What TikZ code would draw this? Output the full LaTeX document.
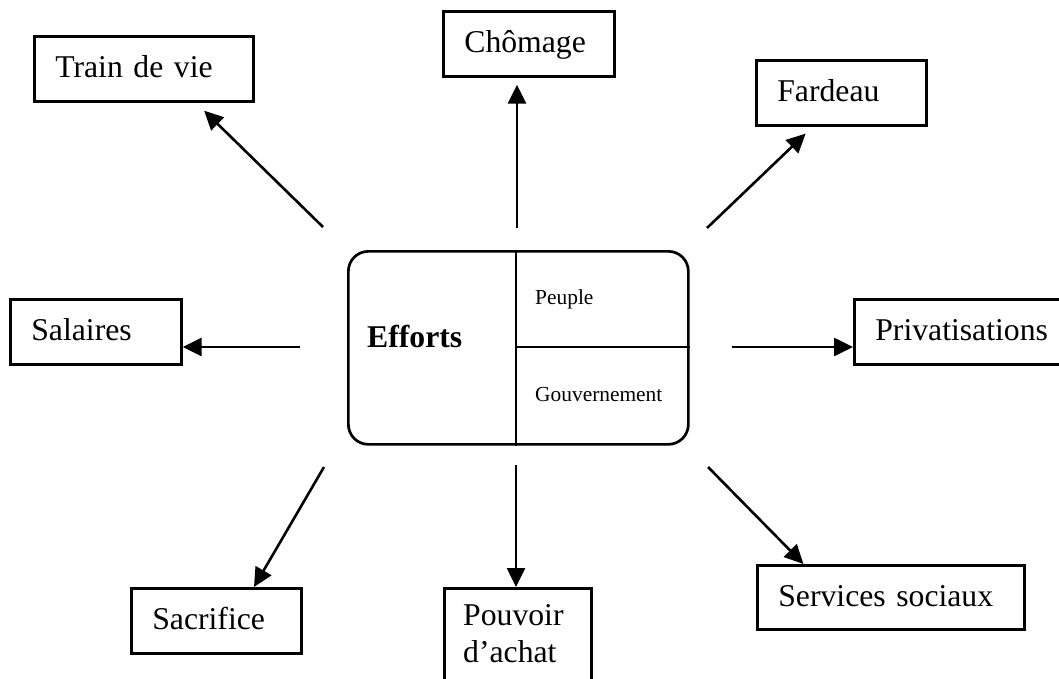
\documentclass[tikz,border=0pt]{standalone}
\usepackage{fontspec}
\setmainfont{Liberation Serif}
\usetikzlibrary{arrows.meta,calc}
\newcommand\dgmbig{\fontsize{31.7}{37}\selectfont}
\newcommand\dgmsmall{\fontsize{21.4}{25}\selectfont}
\begin{document}
\begin{tikzpicture}[x=1pt,y=-1pt,
  box/.style={draw,line width=2.7pt,anchor=north west,inner xsep=21pt,inner ysep=0pt,
    text height=22pt,text depth=4pt,minimum height=65pt,align=left,font=\dgmbig},
  arr/.style={line width=2.6pt,-{Triangle[length=19pt,width=18pt]}},
  lbl/.style={inner sep=0pt,anchor=base west}]
\useasboundingbox (0,0) rectangle (1059,679);
\fill[white] (0,0) rectangle (1059,679);

% center box
\node[draw,line width=2.7pt,rounded corners=20pt,anchor=north west,minimum width=340pt,minimum height=193pt,inner sep=0pt] (eff) at (347,250) {};
\coordinate (mid) at (516,347);
\draw[line width=2.7pt] (mid |- eff.north) -- (mid |- eff.south);
\draw[line width=2.7pt] (mid) -- (mid -| eff.east);
\node[lbl,font=\dgmbig\bfseries] (efforts) at (367,347) {Efforts};
\node[lbl,font=\dgmsmall] (peuple) at (535,304) {Peuple};
\node[lbl,font=\dgmsmall] (gouv) at (535,401) {Gouvernement};

% outer boxes
\node[box,text width=177pt] (train) at (33,35) {Train de vie};
\node[box,text width=129pt] (chom) at (442,10) {Chômage};
\node[box,text width=128pt] (fard) at (755,59) {Fardeau};
\node[box,text width=129pt] (sal) at (9,298) {Salaires};
\node[box,text width=198pt] (priv) at (853,298) {Privatisations};
\node[box,text width=128pt] (sac) at (130,587) {Sacrifice};
\node[box,text width=225pt,minimum height=64pt] (serv) at (756,564) {Services sociaux};
\node[draw,line width=2.7pt,anchor=north west,minimum width=147pt,minimum height=160pt,inner sep=0pt] (pouv) at (443,587) {};
\node[lbl,font=\dgmbig] (pouvtxt) at (463,625) {Pouvoir};
\node[lbl,font=\dgmbig] (pouvtxt2) at (463,662) {d’achat};

% arrow start points
\coordinate (s1) at (323,227);
\coordinate (s2) at (517,228);
\coordinate (s3) at (707,228);
\coordinate (s4) at (300,347);
\coordinate (s5) at (732,347);
\coordinate (s6) at (324,467);
\coordinate (s7) at (516,465);
\coordinate (s8) at (708,467);

\draw[arr,shorten >=11.4pt] (s1) -- ($(train.south west)!0.735!(train.south east)$);
\draw[arr,shorten >=7pt] (s2) -- (s2 |- chom.south);
\draw[arr,shorten >=10pt] (s3) -- ($(fard.south west)!0.335!(fard.south east)$);
\draw[arr] (s4) -- (s4 -| sal.east);
\draw[arr] (s5) -- (s5 -| priv.west);
\draw[arr] (s6) -- ($(sac.north west)!0.718!(sac.north east)$);
\draw[arr] (s7) -- (s7 |- pouv.north);
\draw[arr] (s8) -- ($(serv.north west)!0.176!(serv.north east)$);
\end{tikzpicture}
\end{document}
